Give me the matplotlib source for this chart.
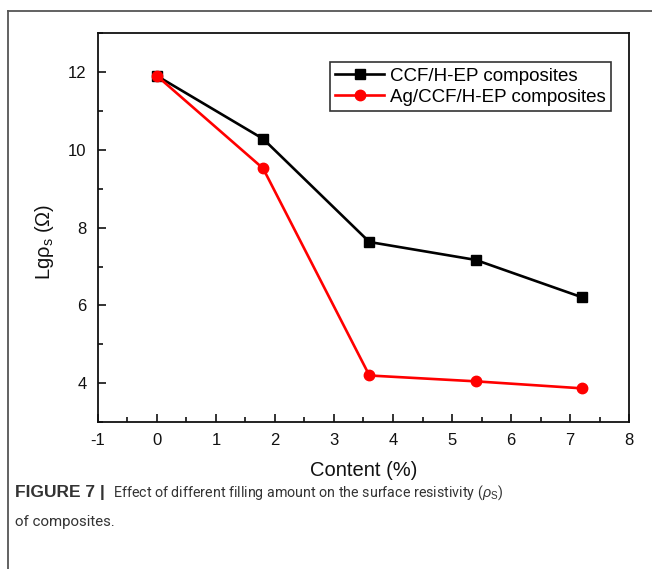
import matplotlib
matplotlib.use('Agg')
import matplotlib.pyplot as plt
from matplotlib.lines import Line2D
from matplotlib.ticker import MultipleLocator

plt.rcParams['font.family'] = ['Liberation Sans', 'DejaVu Sans']
plt.rcParams['mathtext.fontset'] = 'custom'
plt.rcParams['mathtext.rm'] = 'Liberation Sans'
plt.rcParams['mathtext.it'] = 'Liberation Sans:italic'
plt.rcParams['axes.unicode_minus'] = False

# data
content = [0, 1.8, 3.6, 5.4, 7.2]
ccf_hep = [11.9, 10.28, 7.63, 7.17, 6.21]
ag_ccf_hep = [11.9, 9.52, 4.2, 4.05, 3.87]
labels = ['CCF/H-EP composites', 'Ag/CCF/H-EP composites']

fig = plt.figure(figsize=(6.52, 5.69), dpi=100)
ax = fig.add_axes([0.150, 0.258, 0.815, 0.684])

ax.plot(content, ccf_hep, color='black', lw=1.9, marker='s', ms=7, label=labels[0])
ax.plot(content, ag_ccf_hep, color='#ff0000', lw=1.9, marker='o', ms=7.5, label=labels[1])

ax.set_xlim(-1, 8)
ax.set_ylim(3, 13)
ax.xaxis.set_major_locator(MultipleLocator(1))
ax.xaxis.set_minor_locator(MultipleLocator(0.5))
ax.yaxis.set_minor_locator(MultipleLocator(1))
ax.set_yticks([4, 6, 8, 10, 12])
ax.tick_params(which='both', direction='in', width=1.2, labelsize=12, colors='#111111')
ax.tick_params(which='major', length=6)
ax.tick_params(which='minor', length=3.5)
ax.tick_params(axis='x', pad=8)
ax.tick_params(axis='y', pad=8)
for s in ax.spines.values():
    s.set_linewidth(1.3)
    s.set_color('#111111')

ax.set_xlabel('Content (%)', fontsize=14.5, color='#111111', va='center')
ax.xaxis.set_label_coords(0.5, -0.123)
ax.set_ylabel(r'Lg$\mathrm{ρ}_{\mathrm{s}}$ (Ω)', fontsize=14.5, color='#111111', va='center')
ax.yaxis.set_label_coords(-0.1, 0.463)

leg = ax.legend(loc='upper right', bbox_to_anchor=(0.966, 0.925), borderaxespad=0,
                fontsize=13.5, frameon=True, fancybox=False, edgecolor='black',
                handlelength=2.6, handletextpad=0.3, borderpad=0.3, labelspacing=0.2)
leg.get_frame().set_linewidth(1.2)

# outer frame of the figure panel (open at right and bottom)
fig.add_artist(Line2D([8/652, 1], [1 - 11/569, 1 - 11/569], color='#555555', lw=1.3))
fig.add_artist(Line2D([8/652, 8/652], [0, 1 - 11/569], color='#555555', lw=1.3))

# caption
cap_y1 = 1 - 493/569
cap_y2 = 1 - 522/569
fig.text(15/652, cap_y1, 'FIGURE 7 |', fontsize=12.5, fontweight='bold',
         color='#333333', va='center', family='Liberation Sans')
fig.text(113/652, cap_y1,
         r'Effect of different filling amount on the surface resistivity ($\rho_{\mathrm{S}}$)',
         fontsize=10.3, color='#333333', va='center', family=['Roboto', 'Liberation Sans'])
fig.text(15/652, cap_y2, 'of composites.', fontsize=10.8, color='#333333', va='center',
         family=['Roboto', 'Liberation Sans'])

fig.savefig('out.png', dpi=100)
